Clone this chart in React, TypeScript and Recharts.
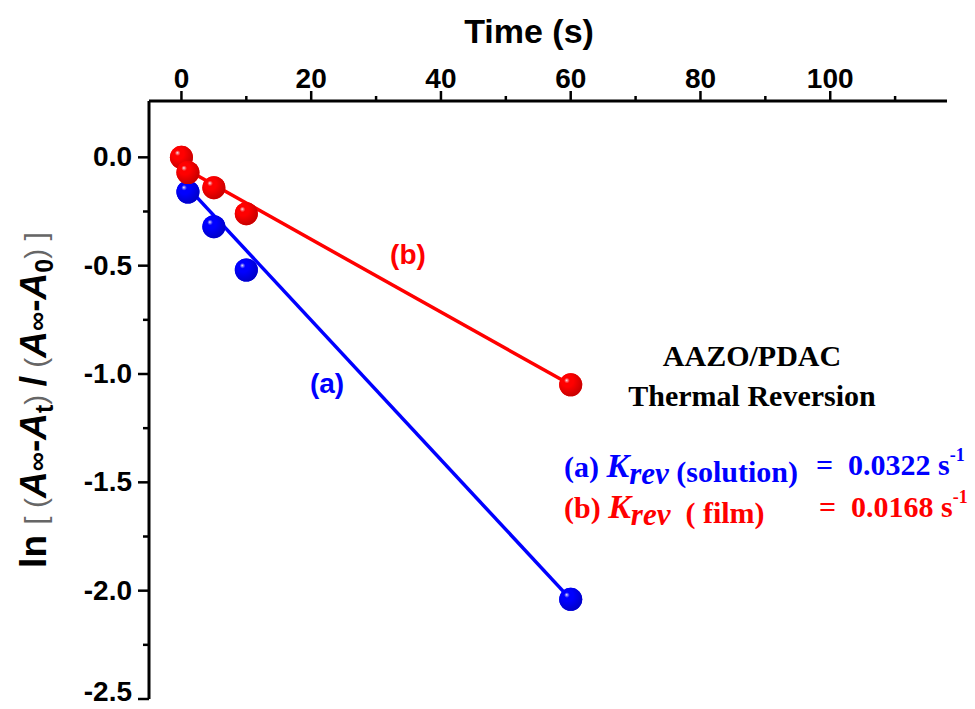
import React from "react";
import { Scatter, ScatterChart, XAxis, YAxis } from "recharts";

// measured points, time in seconds vs ln ratio
const filmTime = [0, 1, 5, 10, 60];
const filmValue = [0.0, -0.07, -0.14, -0.26, -1.05];
const solutionTime = [1, 5, 10, 60];
const solutionValue = [-0.16, -0.32, -0.52, -2.04];

// end points of the linear fits
const filmFitTime = [1, 60];
const filmFitValue = [-0.06, -1.05];
const solutionFitTime = [1, 60];
const solutionFitValue = [-0.14, -2.04];

const xMajorTicks = [0, 20, 40, 60, 80, 100];
const xMinorTicks = [10, 30, 50, 70, 90, 110];
const yMajorTicks = [0, -0.5, -1, -1.5, -2, -2.5];
const yMinorTicks = [-0.25, -0.75, -1.25, -1.75, -2.25];

const RED = "#ff0000";
const BLUE = "#0000ff";
const SANS = "Liberation Sans, Arial, sans-serif";
const SERIF = "Liberation Serif, Times New Roman, serif";

const toPoints = (xs: number[], ys: number[]) =>
  xs.map((x, i) => ({ x, y: ys[i] }));

const filmData = toPoints(filmTime, filmValue);
const solutionData = toPoints(solutionTime, solutionValue);
const filmFit = toPoints(filmFitTime, filmFitValue);
const solutionFit = toPoints(solutionFitTime, solutionFitValue);

const xTicks = [...xMajorTicks, ...xMinorTicks].sort((a, b) => a - b);
const yTicks = [...yMajorTicks, ...yMinorTicks].sort((a, b) => a - b);

function Sphere(props: any) {
  const { cx, cy, color, dark, id } = props;
  if (cx == null || cy == null) return null;
  const gid = `${id}-${Math.round(cx)}-${Math.round(cy)}`;
  return (
    <g>
      <defs>
        <radialGradient id={gid} cx="40%" cy="38%" r="62%" fx="32%" fy="30%">
          <stop offset="0%" stopColor="#f2eef6" />
          <stop offset="20%" stopColor={color} stopOpacity={0.7} />
          <stop offset="42%" stopColor={color} />
          <stop offset="100%" stopColor={dark} />
        </radialGradient>
      </defs>
      <circle cx={cx} cy={cy} r={11.5} fill={color} />
      <circle cx={cx} cy={cy} r={11.5} fill={`url(#${gid})`} />
    </g>
  );
}

const noShape = () => <g />;

// top axis: long ticks with labels, short ticks in between
function TimeTick(props: any) {
  const { x, y, payload } = props;
  const major = xMajorTicks.includes(payload.value);
  return (
    <g>
      <line
        x1={x}
        y1={y}
        x2={x}
        y2={y - (major ? 10 : 5)}
        stroke="#000"
        strokeWidth={2.5}
      />
      {major && (
        <text
          x={x}
          y={y - 13}
          textAnchor="middle"
          fontFamily={SANS}
          fontWeight={700}
          fontSize={28}
          fill="#000"
        >
          {payload.value}
        </text>
      )}
    </g>
  );
}

function LnTick(props: any) {
  const { x, y, payload } = props;
  const major = yMajorTicks.includes(payload.value);
  // keep the lowest label inside the canvas
  const baseline = Math.min(y + 9, 701);
  return (
    <g>
      <line
        x1={x}
        y1={y}
        x2={x - (major ? 11 : 6)}
        y2={y}
        stroke="#000"
        strokeWidth={2.5}
      />
      {major && (
        <text
          x={x - 17}
          y={baseline}
          textAnchor="end"
          fontFamily={SANS}
          fontWeight={700}
          fontSize={28}
          fill="#000"
        >
          {payload.value.toFixed(1)}
        </text>
      )}
    </g>
  );
}

export default function App() {
  return (
    <div
      style={{
        position: "absolute",
        left: 0,
        top: 0,
        width: 975,
        height: 709,
        background: "#fff",
      }}
    >
      <ScatterChart
        width={975}
        height={709}
        margin={{ top: 41, right: 28, bottom: 10, left: 49 }}
      >
        <XAxis
          dataKey="x"
          type="number"
          orientation="top"
          domain={[-5, 118]}
          ticks={xTicks}
          interval={0}
          allowDataOverflow
          height={60}
          tick={<TimeTick />}
          tickSize={0}
          tickMargin={0}
          tickLine={false}
          axisLine={{ stroke: "#000", strokeWidth: 3 }}
        />
        <YAxis
          dataKey="y"
          type="number"
          domain={[-2.5, 0.26]}
          ticks={yTicks}
          interval={0}
          allowDataOverflow
          width={100}
          tick={<LnTick />}
          tickSize={0}
          tickMargin={0}
          tickLine={false}
          axisLine={{ stroke: "#000", strokeWidth: 3 }}
        />

        {/* fitted lines */}
        <Scatter
          data={solutionFit}
          line={{ stroke: BLUE, strokeWidth: 3.5 }}
          shape={noShape}
          isAnimationActive={false}
        />
        <Scatter
          data={filmFit}
          line={{ stroke: RED, strokeWidth: 3.5 }}
          shape={noShape}
          isAnimationActive={false}
        />

        {/* measurements */}
        <Scatter
          data={solutionData}
          shape={(p: any) => (
            <Sphere {...p} color={BLUE} dark="#0000c8" id="sol" />
          )}
          isAnimationActive={false}
        />
        <Scatter
          data={filmData}
          shape={(p: any) => (
            <Sphere {...p} color={RED} dark="#c80000" id="film" />
          )}
          isAnimationActive={false}
        />
      </ScatterChart>

      <svg
        width={975}
        height={709}
        style={{ position: "absolute", left: 0, top: 0, pointerEvents: "none" }}
      >
        <text
          x={529}
          y={43}
          textAnchor="middle"
          fontFamily={SANS}
          fontWeight={700}
          fontSize={34}
          fill="#000"
        >
          Time (s)
        </text>

        <g transform="translate(46,400) rotate(-90)">
          <text
            textAnchor="middle"
            fontFamily={SANS}
            fontWeight={700}
            fontSize={37}
            fill="#000"
            xmlSpace="preserve"
          >
            <tspan>{"ln "}</tspan>
            <tspan fontWeight={400} fill="#666" fontSize={30}>
              {"[ ("}
            </tspan>
            <tspan fontStyle="italic">A</tspan>
            <tspan fontSize={27}>∞</tspan>
            <tspan>-</tspan>
            <tspan fontStyle="italic">A</tspan>
            <tspan fontSize={25} dy={7}>
              t
            </tspan>
            <tspan fontWeight={400} fill="#666" fontSize={30} dy={-7}>
              {") "}
            </tspan>
            <tspan>/</tspan>
            <tspan fontWeight={400} fill="#666" fontSize={30}>
              {" ("}
            </tspan>
            <tspan fontStyle="italic">A</tspan>
            <tspan fontSize={27}>∞</tspan>
            <tspan>-</tspan>
            <tspan fontStyle="italic">A</tspan>
            <tspan fontSize={25} dy={7}>
              0
            </tspan>
            <tspan fontWeight={400} fill="#666" fontSize={30} dy={-7}>
              {") ]"}
            </tspan>
          </text>
        </g>

        <text
          x={408}
          y={264}
          textAnchor="middle"
          fontFamily={SANS}
          fontWeight={700}
          fontSize={28}
          fill={RED}
        >
          (b)
        </text>
        <text
          x={327}
          y={393}
          textAnchor="middle"
          fontFamily={SANS}
          fontWeight={700}
          fontSize={28}
          fill={BLUE}
        >
          (a)
        </text>

        <g fontFamily={SERIF} fontWeight={700} fill="#000" fontSize={30}>
          <text x={752} y={366} textAnchor="middle">
            AAZO/PDAC
          </text>
          <text x={752} y={406} textAnchor="middle">
            Thermal Reversion
          </text>
        </g>

        <g fontFamily={SERIF} fontWeight={700} fontSize={30}>
          <text x={564} y={477} fill={BLUE} xmlSpace="preserve">
            <tspan>{"(a) "}</tspan>
            <tspan fontStyle="italic" fontSize={34}>
              K
            </tspan>
            <tspan fontStyle="italic" fontSize={31} dy={7}>
              rev
            </tspan>
            <tspan dy={-2}>{" (solution)"}</tspan>
          </text>
          <text x={816} y={475} fill={BLUE} xmlSpace="preserve">
            <tspan>{"=  0.0322 s"}</tspan>
            <tspan fontSize={18} dy={-14}>
              -1
            </tspan>
          </text>
          <text x={564} y={518} fill={RED} xmlSpace="preserve">
            <tspan>{"(b) "}</tspan>
            <tspan fontStyle="italic" fontSize={34}>
              K
            </tspan>
            <tspan fontStyle="italic" fontSize={31} dy={7}>
              rev
            </tspan>
            <tspan dy={-2}>{"  ( film)"}</tspan>
          </text>
          <text x={819} y={517} fill={RED} xmlSpace="preserve">
            <tspan>{"=  0.0168 s"}</tspan>
            <tspan fontSize={18} dy={-14}>
              -1
            </tspan>
          </text>
        </g>
      </svg>
    </div>
  );
}
